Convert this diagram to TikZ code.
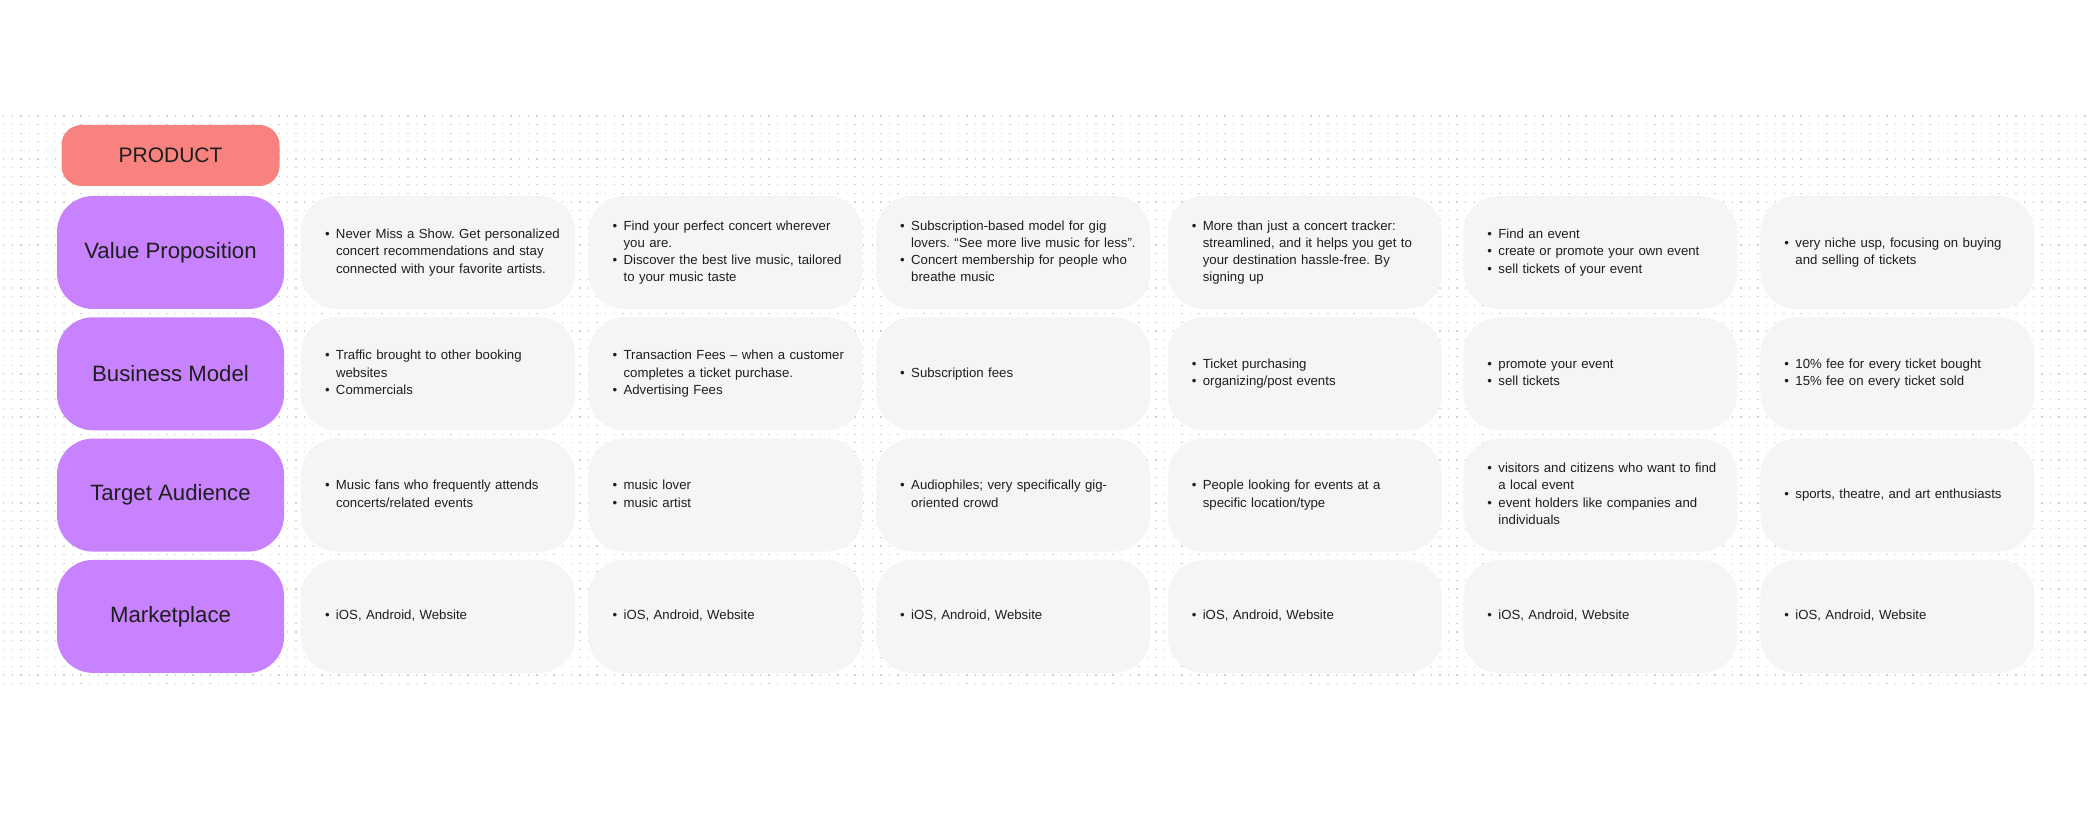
\documentclass[tikz,border=0pt]{standalone}
\usepackage{fontspec}
\setmainfont{Liberation Sans}
\usepackage{tikz}
\frenchspacing
\definecolor{productred}{RGB}{248,130,126}
\definecolor{catpurple}{RGB}{200,130,253}
\definecolor{cellgray}{RGB}{245,245,245}
\definecolor{inkdark}{RGB}{30,30,30}
\definecolor{dotgray}{RGB}{208,208,208}
\tikzstyle{headbox} = [rectangle, rounded corners=20pt, minimum width=218pt, minimum height=61pt, text centered, fill=productred, text=inkdark, font=\fontsize{21}{25}\selectfont]
\tikzstyle{category} = [rectangle, rounded corners=36pt, minimum width=227pt, minimum height=113pt, text centered, fill=catpurple, text=inkdark, font=\fontsize{22.2}{26}\selectfont]
\tikzstyle{infobox} = [rectangle, rounded corners=36pt, minimum height=113pt, text width=226pt, inner xsep=24pt, align=left, fill=cellgray, text=inkdark, font=\fontsize{13.2}{17.3}\selectfont]
\tikzstyle{dotline} = [dotgray, line width=1.3pt, dash pattern=on 1.3pt off 7.3pt]
\newcommand{\blist}[1]{\begin{tabular}{@{}p{11pt}@{}l@{}}#1\end{tabular}}

\begin{document}
\begin{tikzpicture}[x=1pt, y=-1pt, node distance = 121.3pt]
  \useasboundingbox (0,0) rectangle (2088,826);
  \fill[white] (0,0) rectangle (2088,826);
  % dotted canvas
  \foreach \k in {0,...,66}
    \draw[dotline] (3,116+8.6*\k) -- (2088,116+8.6*\k);
  % row labels
  \node (vp) [category] at (170.5,252.5) {Value Proposition};
  \node (product) [headbox, above of = vp, yshift = -24.3pt] {PRODUCT};
  \node (bm) [category, below of = vp] {Business Model};
  \node (ta) [category, below of = bm] {Target Audience};
  \node (mp) [category, below of = ta] {Marketplace};
  % value proposition
  \node (vp1) [infobox, right of = vp, xshift = 146.2pt] {\blist{• & Never Miss a Show. Get personalized\\ & concert recommendations and stay\\ & connected with your favorite artists.}};
  \node (vp2) [infobox, right of = vp1, xshift = 166.3pt] {\blist{• & Find your perfect concert wherever\\ & you are.\\ • & Discover the best live music, tailored\\ & to your music taste}};
  \node (vp3) [infobox, right of = vp2, xshift = 166.3pt] {\blist{• & Subscription-based model for gig\\ & lovers. “See more live music for less”.\\ • & Concert membership for people who\\ & breathe music}};
  \node (vp4) [infobox, right of = vp3, xshift = 170.3pt] {\blist{• & More than just a concert tracker:\\ & streamlined, and it helps you get to\\ & your destination hassle-free. By\\ & signing up}};
  \node (vp5) [infobox, right of = vp4, xshift = 174.3pt] {\blist{• & Find an event\\ • & create or promote your own event\\ • & sell tickets of your event}};
  \node (vp6) [infobox, right of = vp5, xshift = 175.7pt] {\blist{• & very niche usp, focusing on buying\\ & and selling of tickets}};
  % business model
  \node (bm1) [infobox, below of = vp1] {\blist{• & Traffic brought to other booking\\ & websites\\ • & Commercials}};
  \node (bm2) [infobox, below of = vp2] {\blist{• & Transaction Fees – when a customer\\ & completes a ticket purchase.\\ • & Advertising Fees}};
  \node (bm3) [infobox, below of = vp3] {\blist{• & Subscription fees}};
  \node (bm4) [infobox, below of = vp4] {\blist{• & Ticket purchasing\\ • & organizing/post events}};
  \node (bm5) [infobox, below of = vp5] {\blist{• & promote your event\\ • & sell tickets}};
  \node (bm6) [infobox, below of = vp6] {\blist{• & 10\% fee for every ticket bought\\ • & 15\% fee on every ticket sold}};
  % target audience
  \node (ta1) [infobox, below of = bm1] {\blist{• & Music fans who frequently attends\\ & concerts/related events}};
  \node (ta2) [infobox, below of = bm2] {\blist{• & music lover\\ • & music artist}};
  \node (ta3) [infobox, below of = bm3] {\blist{• & Audiophiles; very specifically gig-\\ & oriented crowd}};
  \node (ta4) [infobox, below of = bm4] {\blist{• & People looking for events at a\\ & specific location/type}};
  \node (ta5) [infobox, below of = bm5] {\blist{• & visitors and citizens who want to find\\ & a local event\\ • & event holders like companies and\\ & individuals}};
  \node (ta6) [infobox, below of = bm6] {\blist{• & sports, theatre, and art enthusiasts}};
  % marketplace
  \node (mp1) [infobox, below of = ta1] {\blist{• & iOS, Android, Website}};
  \node (mp2) [infobox, below of = ta2] {\blist{• & iOS, Android, Website}};
  \node (mp3) [infobox, below of = ta3] {\blist{• & iOS, Android, Website}};
  \node (mp4) [infobox, below of = ta4] {\blist{• & iOS, Android, Website}};
  \node (mp5) [infobox, below of = ta5] {\blist{• & iOS, Android, Website}};
  \node (mp6) [infobox, below of = ta6] {\blist{• & iOS, Android, Website}};
\end{tikzpicture}
\end{document}
